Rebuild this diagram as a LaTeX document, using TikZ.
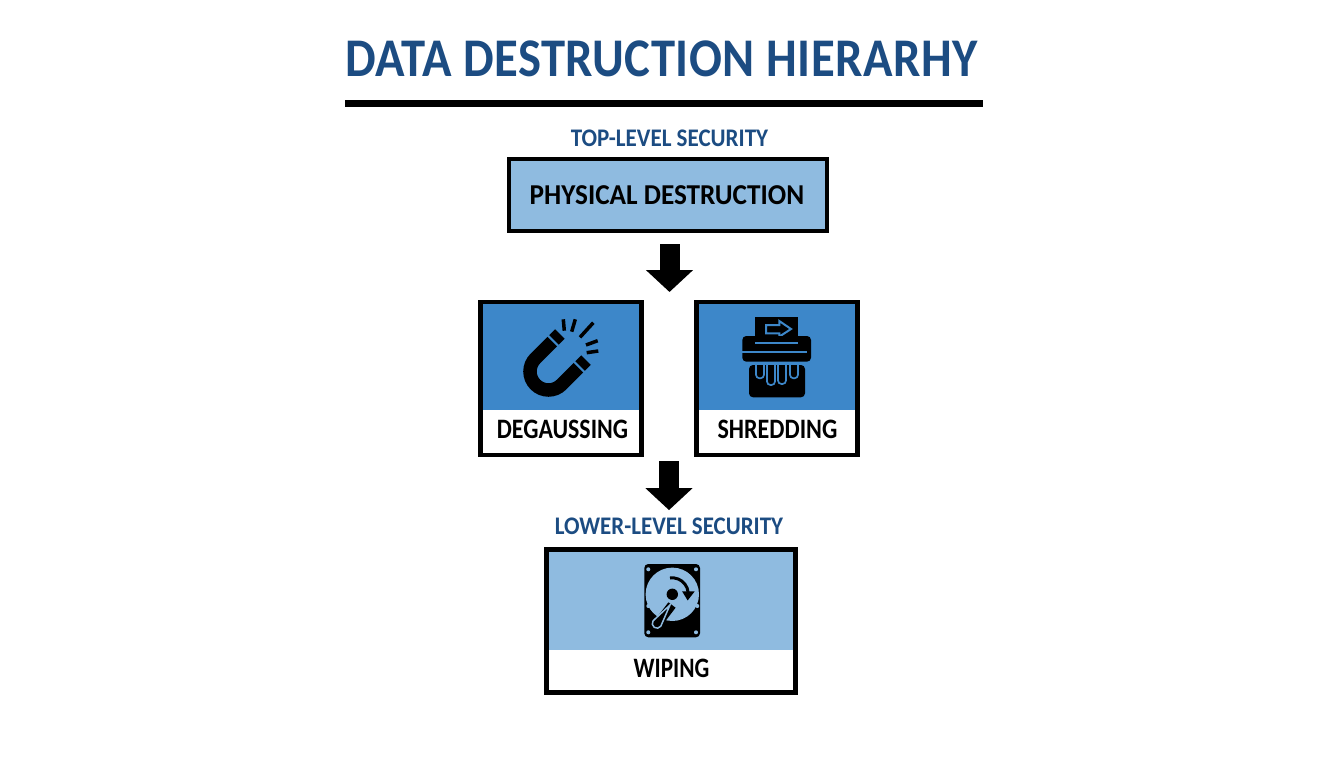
\documentclass[tikz,border=0pt]{standalone}
\usepackage{fontspec}
\setmainfont{Carlito}
\usetikzlibrary{arrows.meta}
\definecolor{titleblue}{HTML}{1C4C82}
\definecolor{darkfill}{HTML}{3D87C9}
\definecolor{lightfill}{HTML}{8FBBE0}
\tikzset{
    frame/.style = {draw = black, line width = 0.045cm, inner sep = 0pt},
    bigarrow/.style = {line width = 0.2cm, -{Triangle[width = 0.46cm, length = 0.22cm]}},
    headline/.style = {text = titleblue, font = \bfseries, inner sep = 0pt},
    cardlabel/.style = {text = black, font = \bfseries, inner sep = 0pt}
}
\begin{document}
\begin{tikzpicture}[scale = 1]
    \useasboundingbox (0,0) rectangle (13.44,-7.68);
    % title
    \node[headline, xscale = 1.385, yscale = 1.55] (title) at (6.615, -0.585) {\addfontfeature{LetterSpace=1}DATA DESTRUCTION HIERARHY};
    \coordinate (ruleL) at (3.45, -1.035);
    \coordinate (ruleR) at (9.83, -1.035);
    \draw[line width = 0.07cm] (ruleL) -- (ruleR);
    % top box
    \node[headline, xscale = 0.655, yscale = 0.72] (toplabel) at (6.695, -1.385) {TOP-LEVEL SECURITY};
    \node[frame, fill = lightfill, minimum width = 3.18cm, minimum height = 0.72cm] (physical) at (6.68, -1.95) {};
    \node[cardlabel, xscale = 0.775, yscale = 0.82] (physicaltext) at (6.67, -1.95) {PHYSICAL DESTRUCTION};
    % middle boxes
    \fill[darkfill] (4.81,-3.02) rectangle (6.41,-4.10);
    \fill[darkfill] (6.97,-3.02) rectangle (8.57,-4.10);
    \node[frame, minimum width = 1.61cm, minimum height = 1.53cm] (degauss) at (5.61, -3.785) {};
    \node[frame, minimum width = 1.61cm, minimum height = 1.53cm] (shred) at (7.77, -3.785) {};
    \node[cardlabel, xscale = 0.68, yscale = 0.8] (degausstext) at (5.625, -4.295) {DEGAUSSING};
    \node[cardlabel, xscale = 0.685, yscale = 0.8] (shredtext) at (7.775, -4.295) {SHREDDING};
    % lower box
    \node[headline, xscale = 0.653, yscale = 0.72] (lowlabel) at (6.69, -5.26) {LOWER-LEVEL SECURITY};
    \fill[lightfill] (5.47,-5.50) rectangle (7.95,-6.50);
    \node[frame, minimum width = 2.49cm, minimum height = 1.43cm] (wiping) at (6.71, -6.21) {};
    \node[cardlabel, xscale = 0.66, yscale = 0.8] (wipingtext) at (6.715, -6.68) {WIPING};
    % arrows
    \coordinate (tipA) at (6.695, -2.92);
    \draw[bigarrow, shorten <= 0.11cm] (physical.south -| tipA) -- (tipA);
    \coordinate (tailB) at (6.69, -4.61);
    \draw[bigarrow, shorten > = 0.07cm] (tailB) -- (lowlabel.north -| tailB);
    % magnet
    \begin{scope}[shift = {(5.485,-3.715)}, rotate = 45]
        \draw[line width = 0.135cm] (0.345,0.185) -- (0,0.185) arc (90:270:0.185) -- (0.345,-0.185);
        \draw[darkfill, line width = 0.02cm] (0.25,0.11) -- (0.25,0.26);
        \draw[darkfill, line width = 0.02cm] (0.25,-0.11) -- (0.25,-0.26);
    \end{scope}
    \foreach \xa/\ya/\xb/\yb in {5.633/3.193/5.643/3.307, 5.753/3.193/5.717/3.317, 5.933/3.227/5.80/3.373, 5.977/3.407/5.86/3.45, 5.983/3.51/5.867/3.527}
        \draw[line width = 0.035cm] (\xa,-\ya) -- (\xb,-\yb);
    % shredder
    \fill (7.55,-3.173) rectangle (7.983,-3.42);
    \draw[darkfill, line width = 0.02cm] (7.66,-3.25) -- (7.793,-3.25) -- (7.793,-3.21) -- (7.91,-3.29) -- (7.793,-3.367) -- (7.793,-3.333) -- (7.66,-3.333) -- cycle;
    \fill[rounded corners = 0.04cm] (7.423,-3.36) rectangle (8.11,-3.617);
    \draw[darkfill, line width = 0.02cm] (7.55,-3.427) -- (7.983,-3.427);
    \draw[darkfill, line width = 0.02cm] (7.423,-3.517) -- (8.07,-3.517);
    \fill[rounded corners = 0.04cm] (7.49,-3.65) -- (7.49,-3.973) -- (8.05,-3.973) -- (8.05,-3.65) -- cycle;
    \foreach \xc/\yc in {7.60/3.783, 7.71/3.85, 7.82/3.84, 7.94/3.783}
        \draw[darkfill, line width = 0.017cm, rounded corners = 0.035cm] (\xc-0.04,-3.64) -- (\xc-0.04,-\yc) -- (\xc+0.04,-\yc) -- (\xc+0.04,-3.64);
    % hard disk
    \fill[rounded corners = 0.04cm] (6.443,-5.64) rectangle (7.00,-6.373);
    \fill[lightfill] (6.723,-5.943) circle (0.267);
    \fill (6.723,-5.943) circle (0.057);
    \draw[line width = 0.03cm] (6.70,-5.78) arc (98:5:0.16) coordinate (arcend);
    \fill (arcend) ++(-0.06,0.01) -- ++(0.125,0) -- ++(-0.07,-0.09) -- cycle;
    \draw[line width = 0.09cm] (6.56,-6.26) -- (6.72,-6.05);
    \draw[lightfill, fill = black, line width = 0.015cm] (6.70,-6.05) -- (6.608,-6.262) arc (-35:-215:0.047) -- cycle;
    \foreach \xs/\ys in {6.483/5.693, 6.96/5.693, 6.483/6.323, 6.96/6.323, 6.483/6.06, 6.973/6.06}
        \fill[lightfill] (\xs,-\ys) circle (0.02);
\end{tikzpicture}
\end{document}
